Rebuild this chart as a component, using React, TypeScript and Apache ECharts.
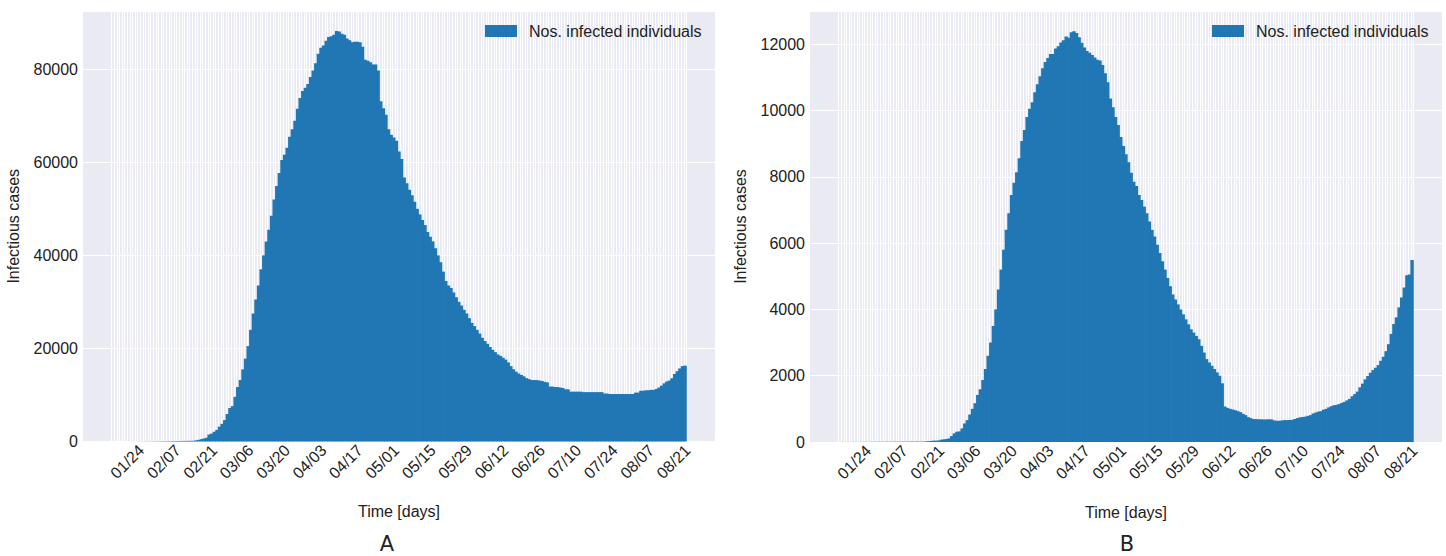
import { useEffect, useRef } from "react";
import * as echarts from "echarts";

// Daily series start on 2020-01-13; the x axis carries empty days on both sides.
const FIRST_DAY = { year: 2020, month: 0, day: 13 };
const PAD_DAYS = 11;

const tickLabels = [
  "01/24", "02/07", "02/21", "03/06", "03/20", "04/03", "04/17", "05/01",
  "05/15", "05/29", "06/12", "06/26", "07/10", "07/24", "08/07", "08/21",
];

const seriesName = "Nos. infected individuals";
const panelLetters = ["A", "B"];

// Panel A: infectious cases per day
const infectedA = [
  3, 3, 4, 5, 5, 6, 8, 9, 11, 13, 15, 18, 21, 24, 28, 33, 38, 44, 50, 57,
  64, 72, 80, 88, 96, 104, 112, 120, 128, 136, 143,
  150, 250, 350, 500, 650, 800, 1500, 1700, 2100, 2500, 3200, 3800, 4600, 5900,
  7200, 7600, 9600, 11700, 13200, 15500, 17800, 20500, 24000, 27500, 30500,
  33500, 37000, 40000, 43000, 45500, 48500, 52000, 54900, 57700, 60500, 61600,
  63100, 65500, 67100, 68900, 71500, 73800, 75300, 76000, 76800, 78300, 79700,
  81300, 83300, 84600, 85100, 86100, 86900, 87100, 87400, 88200, 88100, 87600,
  87400, 86600, 86200, 85800, 85900, 85900, 85800, 84800, 82000, 81800, 81500,
  81000, 81000, 79700, 73100, 71600, 70200, 67100, 65900, 65300, 64600, 62300,
  60700, 56700, 55500, 54100, 52900,
  51500, 50000, 48800, 47600, 46500, 45000, 44000, 43000, 41500, 40000, 38500,
  36500, 34500, 33500, 33000, 32000, 31000, 30000, 29200, 28300, 27500, 26500,
  25500, 24800, 24000, 23200, 22300, 21600, 21000, 20300, 19700, 19200, 18700,
  18400, 18000, 17600, 17000, 16200, 15500, 15000, 14600, 14300, 14000, 13600,
  13400, 13200,
  13200, 13200, 13100, 13000, 12800, 12700, 11800, 11800, 11700, 11700, 11600,
  11500, 11200, 11200, 10700, 10700, 10700, 10700, 10700, 10600, 10600, 10600,
  10600, 10600, 10600, 10600, 10600, 10300, 10300, 10200, 10200, 10200, 10200,
  10200, 10200, 10200, 10200, 10200, 10200, 10500, 10500, 10900, 10900, 11000,
  11000, 11100, 11100, 11300, 11600, 12000, 12500, 12900, 13100, 13600, 14500,
  15100, 15700, 16200, 16300,
];

// Panel B: infectious cases per day
const infectedB = [
  1, 1, 1, 1, 1, 2, 2, 2, 2, 3, 3, 3, 4, 4, 4, 5, 5, 5, 6, 6,
  6, 7, 7, 7, 8, 8, 8, 9, 9, 9, 10, 10,
  10, 15, 25, 30, 40, 40, 45, 70, 80, 90, 110, 180, 260, 310, 320, 410, 560,
  660, 830, 1000, 1170, 1420, 1590, 1870, 2200, 2600, 3000, 3500, 4000, 4600,
  5200, 5800, 6400, 6900, 7450, 7820, 8140, 8560, 9080, 9410, 9800, 10050,
  10250, 10550, 10790, 11030, 11270, 11460, 11580, 11700, 11700, 11870, 11940,
  12050, 12120, 12230, 12190, 12360, 12390, 12340, 12210, 12040, 11900, 11790,
  11740, 11670, 11600, 11530, 11510, 11370, 11120, 10850, 10360, 10100, 9800,
  9560, 9200, 8930, 8680, 8440, 8120, 7850, 7720, 7450,
  7300, 7100, 6900, 6650, 6400, 6200, 5950, 5700, 5450, 5200, 4950, 4700, 4450,
  4300, 4150, 4000, 3850, 3700, 3550, 3400, 3300, 3200, 3100, 2900, 2700, 2500,
  2400, 2300, 2200, 2100, 2000,
  1770, 1070, 1030, 1000, 980, 960, 930, 900, 850, 810, 750, 720, 690, 690, 685,
  685, 680, 680, 685, 680, 650, 640, 640, 650, 660, 660, 665, 670, 695, 720,
  745, 755, 765, 790, 810, 860, 890, 915, 930, 975, 1000, 1045, 1080, 1110,
  1120, 1145, 1180, 1210, 1255, 1300, 1380, 1445, 1520, 1650, 1760, 1890, 1990,
  2090, 2170, 2240, 2320, 2450, 2570, 2740, 2950, 3260, 3560, 3760, 4060, 4360,
  4660, 5030, 5050, 5490,
];

const TEXT = "#222222";
const FONT = "'Liberation Sans', Arial, sans-serif";
const BAR = "#2077b4";
const PANEL_BG = "#eaeaf2";

const pad2 = (n: number) => (n < 10 ? "0" + n : String(n));

function buildDays(count: number): string[] {
  const out: string[] = [];
  for (let i = -PAD_DAYS; i < count + PAD_DAYS; i++) {
    const d = new Date(Date.UTC(FIRST_DAY.year, FIRST_DAY.month, FIRST_DAY.day + i));
    out.push(pad2(d.getUTCMonth() + 1) + "/" + pad2(d.getUTCDate()));
  }
  return out;
}

function padded(values: number[]): (number | null)[] {
  const blank = new Array(PAD_DAYS).fill(null);
  return [...blank, ...values, ...blank];
}

export default function App() {
  const ref = useRef<HTMLDivElement>(null);

  useEffect(() => {
    if (!ref.current) return;
    const chart = echarts.init(ref.current, undefined, { renderer: "svg" });
    const days = buildDays(infectedA.length);
    const firstIdx = PAD_DAYS;
    const lastIdx = PAD_DAYS + infectedA.length;

    const panels = [
      { left: 83, top: 11, height: 430.5, max: 92500, interval: 20000, values: infectedA, letterX: 387 },
      { left: 810, top: 11, height: 431, max: 13000, interval: 2000, values: infectedB, letterX: 1127 },
    ];

    const option: any = {
      animation: false,
      backgroundColor: "#ffffff",
      textStyle: { fontFamily: FONT, color: TEXT },
      grid: panels.map((p) => ({
        left: p.left,
        top: p.top,
        width: 632,
        height: p.height,
        show: true,
        backgroundColor: PANEL_BG,
        borderWidth: 0,
        containLabel: false,
      })),
      xAxis: panels.map((_, i) => ({
        type: "category",
        gridIndex: i,
        data: days,
        boundaryGap: true,
        axisLine: { show: false },
        axisTick: { show: false },
        axisLabel: {
          interval: (_idx: number, value: string) => tickLabels.includes(value),
          rotate: 45,
          margin: 6,
          fontSize: 16,
          fontFamily: FONT,
          color: TEXT,
        },
        splitLine: {
          show: true,
          interval: (idx: number) => idx >= firstIdx && idx <= lastIdx,
          lineStyle: { color: "#ffffff", width: 1 },
        },
        name: "Time [days]",
        nameLocation: "middle",
        nameGap: 62,
        nameTextStyle: { fontSize: 16, fontFamily: FONT, color: TEXT },
      })),
      yAxis: panels.map((p, i) => ({
        type: "value",
        gridIndex: i,
        min: 0,
        max: p.max,
        interval: p.interval,
        axisLine: { show: false },
        axisTick: { show: false },
        axisLabel: {
          showMaxLabel: false,
          margin: 5,
          fontSize: 16,
          fontFamily: FONT,
          color: TEXT,
          formatter: (v: number) => String(v),
        },
        splitLine: { show: true, lineStyle: { color: "#ffffff", width: 1.2 } },
        name: "Infectious cases",
        nameLocation: "middle",
        nameGap: 62,
        nameTextStyle: { fontSize: 16, fontFamily: FONT, color: TEXT },
      })),
      legend: panels.map((p) => ({
        left: p.left + 402,
        top: 23,
        padding: 0,
        itemWidth: 32,
        itemHeight: 12,
        icon: "rect",
        data: [seriesName],
        textStyle: { fontSize: 16, fontFamily: FONT, color: TEXT, padding: [0, 0, 0, 7] },
        selectedMode: false,
      })),
      series: panels.map((p, i) => ({
        type: "bar",
        name: seriesName,
        xAxisIndex: i,
        yAxisIndex: i,
        data: padded(p.values),
        barWidth: "130%",
        barGap: "0%",
        itemStyle: { color: BAR, borderWidth: 0 },
      })),
      graphic: panels.map((p, i) => ({
        type: "text",
        x: p.letterX,
        y: 544,
        style: {
          text: panelLetters[i],
          fontSize: 21,
          fontFamily: "'DejaVu Sans', sans-serif",
          fill: TEXT,
          align: "center",
          verticalAlign: "middle",
        },
      })),
    };

    chart.setOption(option);
    return () => chart.dispose();
  }, []);

  return (
    <div
      ref={ref}
      style={{ position: "fixed", left: 0, top: 0, width: 1446, height: 556 }}
    />
  );
}
